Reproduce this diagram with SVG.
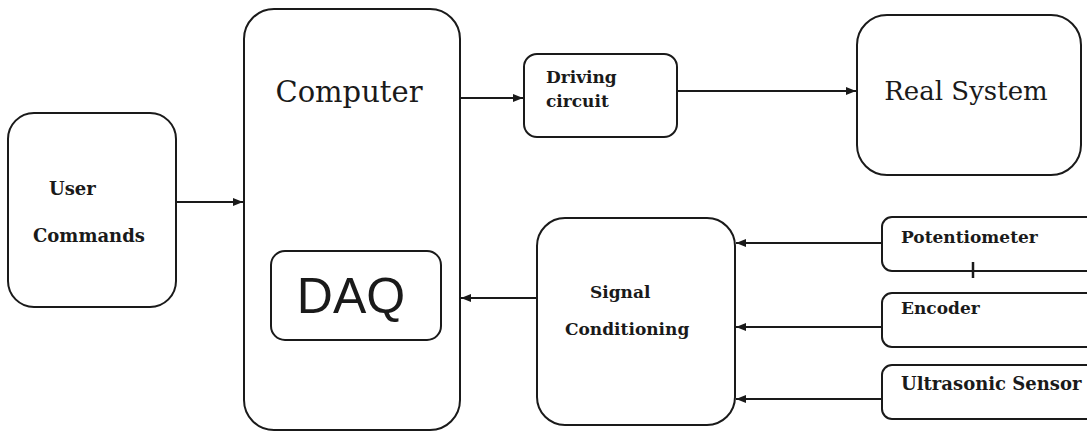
<svg xmlns="http://www.w3.org/2000/svg" width="1087" height="432" viewBox="0 0 1087 432">
<defs>
<marker id="ah" viewBox="0 0 10 10" refX="10" refY="5" markerWidth="5" markerHeight="5" orient="auto" markerUnits="strokeWidth">
<path d="M0,1 L10,5 L0,9 z" fill="#1a1a1a"/>
</marker>
</defs>
<style>
.box{fill:#fff;stroke:#1a1a1a;stroke-width:2}
.lbl{font-family:"DejaVu Serif","Liberation Serif",serif;font-weight:bold;font-size:17px;fill:#1a1a1a}
.big{font-family:"DejaVu Serif","Liberation Serif",serif;font-size:28px;fill:#1a1a1a}
.sans{font-family:"Liberation Sans",Arial,sans-serif;font-size:50px;fill:#1a1a1a}
.con{stroke:#1a1a1a;stroke-width:2;fill:none;marker-end:url(#ah)}
</style>
<rect width="1087" height="432" fill="#fff"/>
<g id="user-commands">
<rect class="box" x="8" y="113" width="168" height="194" rx="26"/>
<text class="lbl" x="49" y="195" style="font-size:18px">User</text>
<text class="lbl" x="33" y="242" style="font-size:18px">Commands</text>
</g>
<g id="computer">
<rect class="box" x="244" y="9" width="216" height="421" rx="30"/>
<text class="big" x="349" y="102" text-anchor="middle" style="font-size:29px">Computer</text>
</g>
<g id="daq">
<rect class="box" x="271" y="251" width="170" height="89" rx="14"/>
<text class="sans" x="351" y="313" text-anchor="middle">DAQ</text>
</g>
<g id="driving-circuit">
<rect class="box" x="524" y="54" width="153" height="83" rx="13"/>
<text class="lbl" x="546" y="83">Driving</text>
<text class="lbl" x="546" y="107">circuit</text>
</g>
<g id="real-system">
<rect class="box" x="857" y="15" width="224" height="160" rx="30"/>
<text class="big" x="966" y="100" text-anchor="middle" style="font-size:26px">Real System</text>
</g>
<g id="signal-conditioning">
<rect class="box" x="537" y="218" width="198" height="207" rx="28"/>
<text class="lbl" x="590" y="298">Signal</text>
<text class="lbl" x="565" y="335">Conditioning</text>
</g>
<g id="potentiometer">
<rect class="box" x="882" y="217" width="215" height="54" rx="10"/>
<text class="lbl" x="901" y="243">Potentiometer</text>
</g>
<g id="encoder">
<rect class="box" x="882" y="293" width="215" height="54" rx="10"/>
<text class="lbl" x="901" y="314">Encoder</text>
</g>
<g id="ultrasonic-sensor">
<rect class="box" x="882" y="365" width="215" height="54" rx="10"/>
<text class="lbl" x="901" y="390" style="font-size:18px">Ultrasonic Sensor</text>
</g>
<g id="connectors">
<line class="con" x1="176" y1="202" x2="243" y2="202"/>
<line class="con" x1="460" y1="98" x2="523" y2="98"/>
<line class="con" x1="677" y1="91" x2="856" y2="91"/>
<line class="con" x1="537" y1="298" x2="461" y2="298"/>
<line class="con" x1="882" y1="243" x2="736" y2="243"/>
<line class="con" x1="882" y1="327" x2="736" y2="327"/>
<line class="con" x1="882" y1="399" x2="736" y2="399"/>
<line x1="973" y1="262" x2="973" y2="278" stroke="#1a1a1a" stroke-width="2.5"/>
</g>
</svg>
